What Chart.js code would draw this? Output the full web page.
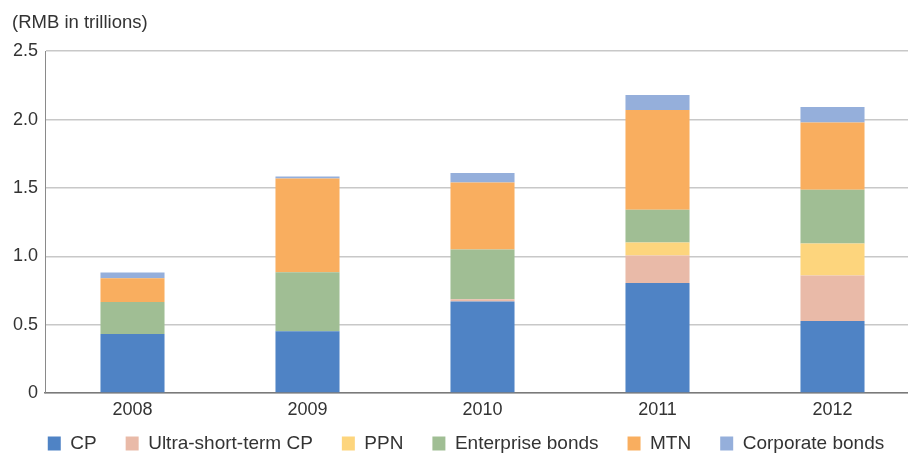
<!DOCTYPE html>
<html>
<head>
<meta charset="utf-8">
<script src="https://cdn.jsdelivr.net/npm/chart.js@4"></script>
<style>
  html, body { margin: 0; padding: 0; overflow: hidden; background: #fff; }
  #wrap { width: 926px; height: 455px; position: relative; }
</style>
</head>
<body>
<div id="wrap"><canvas id="c"></canvas></div>
<script>
const categories = ['2008', '2009', '2010', '2011', '2012'];
const cp          = [0.432, 0.452, 0.670, 0.805, 0.527];
const ultraCp     = [0,     0,     0.015, 0.200, 0.333];
const ppn         = [0,     0,     0,     0.095, 0.233];
const enterprise  = [0.233, 0.432, 0.365, 0.240, 0.394];
const mtn         = [0.175, 0.685, 0.490, 0.730, 0.491];
const corporate   = [0.042, 0.015, 0.070, 0.110, 0.114];
const yTickLabels = ['0', '0.5', '1.0', '1.5', '2.0', '2.5'];
const unitLabel = '(RMB in trillions)';

const FONT = '"Liberation Sans", Arial, sans-serif';
const TXT = '#333333';

const ds = (label, data, color) => ({
  label, data, backgroundColor: color, borderWidth: 0,
  barPercentage: 1, categoryPercentage: 0.366, stack: 's'
});

// keeps the legend compact vertically while leaving wide horizontal spacing
const legendHeightPlugin = {
  id: 'legendHeight',
  beforeUpdate(chart) {
    const lg = chart.legend;
    if (lg && !lg._patched) {
      const f = lg.fit;
      lg.fit = function () { f.call(this); this.height = 32; };
      lg._patched = true;
    }
  },
  afterLayout(chart) {
    const lg = chart.legend;
    if (lg) { lg.top = 405; lg.bottom = 455; lg.height = 50; }
  }
};

new Chart(document.getElementById('c'), {
  type: 'bar',
  data: {
    labels: categories,
    datasets: [
      ds('CP', cp, '#4f83c5'),
      ds('Ultra-short-term CP', ultraCp, '#e9baa8'),
      ds('PPN', ppn, '#fdd57d'),
      ds('Enterprise bonds', enterprise, '#a0be94'),
      ds('MTN', mtn, '#f9ae5f'),
      ds('Corporate bonds', corporate, '#95afdb')
    ]
  },
  plugins: [legendHeightPlugin],
  options: {
    responsive: true,
    maintainAspectRatio: false,
    animation: false,
    layout: { padding: { left: 12, right: 6, top: 0, bottom: 0 } },
    plugins: {
      tooltip: { enabled: false },
      title: {
        display: true, text: unitLabel, align: 'start',
        color: TXT, font: { family: FONT, size: 18.5, weight: 'normal' },
        padding: { top: 12, bottom: 17 }
      },
      legend: {
        position: 'bottom',
        labels: {
          color: TXT, font: { family: FONT, size: 19 },
          boxWidth: 13, boxHeight: 14, padding: 29
        }
      }
    },
    scales: {
      x: {
        stacked: true,
        afterFit: s => { s.height = 30; },
        grid: { display: false, drawTicks: false },
        border: { display: true, color: '#7a7a7a', width: 1.5 },
        ticks: { color: TXT, font: { family: FONT, size: 18 }, padding: 6 }
      },
      y: {
        stacked: true,
        min: 0, max: 2.5,
        afterFit: s => { s.width = 33; },
        grid: { color: '#c8c8c8', lineWidth: 1.5, drawTicks: false },
        border: { display: true, color: '#8a8a8a', width: 1 },
        ticks: {
          stepSize: 0.5, padding: 7, color: TXT,
          font: { family: FONT, size: 18 },
          callback: (v, i) => yTickLabels[i]
        }
      }
    }
  }
});
</script>
</body>
</html>
